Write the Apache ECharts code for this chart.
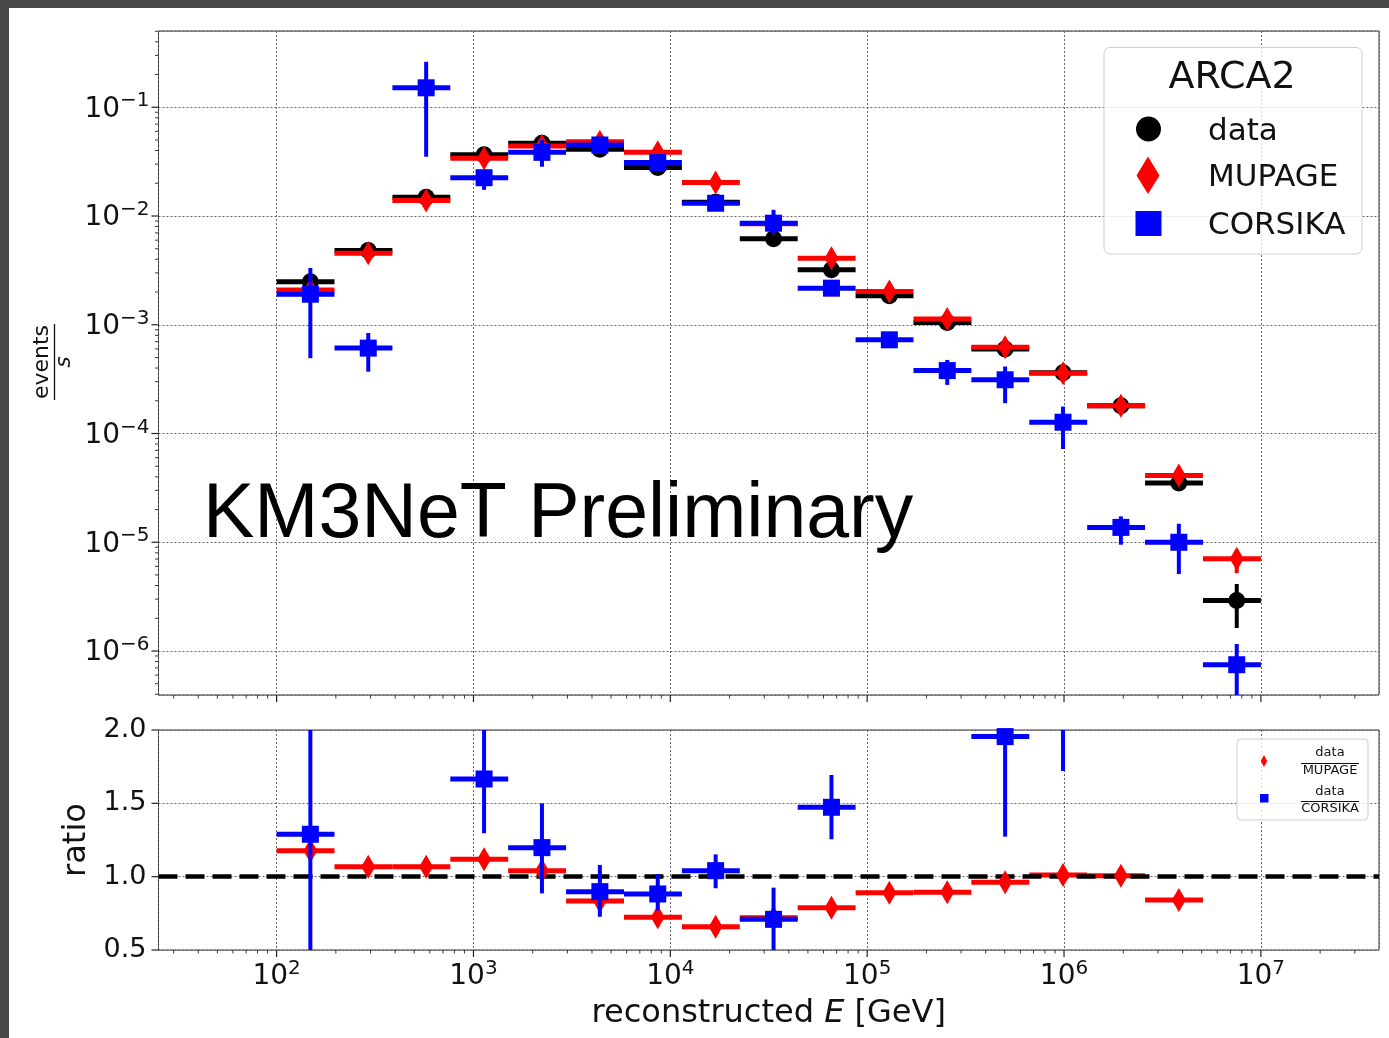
<!DOCTYPE html>
<html><head><meta charset="utf-8">
<script src="https://cdn.jsdelivr.net/npm/echarts@6/dist/echarts.min.js"></script>
<style>html,body{margin:0;padding:0;background:#fff}#c{width:1389px;height:1038px}</style>
</head><body><div id="c"></div>
<script>
// ---- bins (reconstructed energy, GeV) ----
const binLow = [100, 196.8, 387.4, 762.6, 1501, 2955, 5816, 11450, 22540, 44360, 87330, 171900, 338300, 665900, 1311000, 2580000, 5079000];
const binHigh = [196.8, 387.4, 762.6, 1501, 2955, 5816, 11450, 22540, 44360, 87330, 171900, 338300, 665900, 1311000, 2580000, 5079000, 10000000];
const binCenter = [148.4, 292.1, 575.0, 1132, 2228, 4386, 8633, 16990, 33450, 65850, 129600, 255100, 502100, 988400, 1945000, 3830000, 7540000];

// ---- event rates (events / s) ----
const dataRate = [2.49e-3, 4.81e-3, 1.49e-2, 3.65e-2, 4.67e-2, 4.11e-2, 2.79e-2, 1.34e-2, 6.17e-3, 3.2e-3, 1.85e-3, 1.05e-3, 6.0e-4, 3.62e-4, 1.8e-4, 3.5e-5, 2.92e-6];
const dataLo = [null, null, null, null, null, null, null, null, null, null, null, null, null, null, null, null, 1.63e-6];
const dataHi = [null, null, null, null, null, null, null, null, null, null, null, null, null, null, null, null, 4.13e-6];
const mupageRate = [2.09e-3, 4.55e-3, 1.39e-2, 3.4e-2, 4.4e-2, 4.83e-2, 3.85e-2, 2.03e-2, 8.5e-3, 4.09e-3, 2.02e-3, 1.13e-3, 6.22e-4, 3.59e-4, 1.8e-4, 4.11e-5, 7.05e-6];
const mupageLo = [null, null, null, null, null, null, null, null, null, null, null, null, null, null, null, null, 5.2e-6];
const mupageHi = [null, null, null, null, null, null, null, null, null, null, null, null, null, null, null, null, 8.5e-6];
const corsikaRate = [1.91e-3, 6.1e-4, 0.151, 2.25e-2, 3.85e-2, 4.5e-2, 3.1e-2, 1.31e-2, 8.59e-3, 2.17e-3, 7.27e-4, 3.79e-4, 3.12e-4, 1.27e-4, 1.37e-5, 1.0e-5, 7.48e-7];
const corsikaLo = [4.93e-4, 3.7e-4, 3.51e-2, 1.74e-2, 2.84e-2, null, null, null, 6.8e-3, null, null, 2.8e-4, 1.9e-4, 7.2e-5, 9.5e-6, 5.1e-6, 2.0e-7];
const corsikaHi = [3.33e-3, 8.4e-4, 0.262, 2.65e-2, 5.0e-2, null, null, null, 1.14e-2, null, null, 4.75e-4, 4.13e-4, 1.77e-4, 1.73e-5, 1.48e-5, 1.16e-6];

// ---- ratios ----
const ratioMupage = [1.177, 1.068, 1.068, 1.118, 1.041, 0.834, 0.723, 0.659, 0.72, 0.788, 0.891, 0.893, 0.962, 1.011, 1.007, 0.841, null];
const ratioCorsika = [1.289, null, null, 1.666, 1.198, 0.898, 0.882, 1.041, 0.709, 1.473, null, null, 1.955, 2.83, null, null, null];
const ratioCorsikaLo = [0.3, null, null, 1.296, 0.886, 0.727, 0.77, 0.921, 0.35, 1.255, null, null, 1.273, 1.72, null, null, null];
const ratioCorsikaHi = [2.3, null, null, 2.2, 1.50, 1.08, 1.018, 1.152, 0.925, 1.693, null, null, 2.6, 3.9, null, null, null];

// ---- axis ranges / ticks ----
const xMin = Math.pow(10, 1.4), xMax = Math.pow(10, 7.6);
const yMin = 3.94e-7, yMax = 0.5027;
const ratioMin = 0.5, ratioMax = 2.0;
const xDecades = [1, 2, 3, 4, 5, 6, 7];
const yDecades = [-7, -6, -5, -4, -3, -2, -1];
const ratioTicks = [0.5, 1.0, 1.5, 2.0];

const FONT = '"DejaVu Sans", sans-serif';
const C_BLACK = '#000000', C_RED = '#ff0000', C_BLUE = '#0000ff';

function logTicks(decades, lo, hi) {
  const out = [];
  decades.forEach(n => { for (let m = 1; m <= 9; m++) { const v = m * Math.pow(10, n); if (v >= lo && v <= hi) out.push(v); } });
  return out;
}
function isMajor(v) { const e = Math.log10(v); return Math.abs(e - Math.round(e)) < 1e-6; }

function errData(vals, lo, hi) {
  const out = [];
  for (let i = 0; i < vals.length; i++) {
    if (vals[i] == null && lo[i] == null) continue;
    out.push([binLow[i], binHigh[i], binCenter[i], vals[i] == null ? '-' : vals[i], lo[i] == null ? '-' : lo[i], hi[i] == null ? '-' : hi[i]]);
  }
  return out;
}
function pts(vals) {
  const out = [];
  for (let i = 0; i < vals.length; i++) if (vals[i] != null) out.push([binCenter[i], vals[i]]);
  return out;
}
function errSeries(name, xi, color, data, z) {
  return {
    type: 'custom', name: name, xAxisIndex: xi, yAxisIndex: xi, z: z, silent: true,
    encode: { x: [0, 1, 2], y: [3, 4, 5] },
    data: data,
    renderItem: function (params, api) {
      const cs = params.coordSys;
      const top = cs.y, bot = cs.y + cs.height;
      const xl = api.value(0), xh = api.value(1), xc = api.value(2);
      const y = api.value(3), ylo = api.value(4), yhi = api.value(5);
      const ch = [];
      if (!isNaN(y) && y > 0) {
        const p1 = api.coord([xl, y]), p2 = api.coord([xh, y]);
        if (p1[1] >= top - 1 && p1[1] <= bot + 1)
          ch.push({ type: 'line', shape: { x1: p1[0], y1: p1[1], x2: p2[0], y2: p2[1] }, style: { stroke: color, lineWidth: 5 } });
      }
      if (!isNaN(ylo) && !isNaN(yhi) && ylo > 0) {
        const a = api.coord([xc, ylo]), b = api.coord([xc, yhi]);
        const y1 = Math.min(Math.max(a[1], top), bot), y2 = Math.min(Math.max(b[1], top), bot);
        if (Math.abs(y1 - y2) > 0.5)
          ch.push({ type: 'line', shape: { x1: a[0], y1: y1, x2: a[0], y2: y2 }, style: { stroke: color, lineWidth: 4 } });
      }
      return { type: 'group', children: ch };
    }
  };
}
function tickSeries(axisIdx, dir, values, otherVal, majorFn) {
  return {
    type: 'custom', xAxisIndex: axisIdx, yAxisIndex: axisIdx, clip: false, silent: true, z: 20,
    encode: dir === 'x' ? { x: 0, y: 1 } : { x: 1, y: 0 },
    data: values.map(v => [v, otherVal]),
    renderItem: function (params, api) {
      const cs = params.coordSys;
      const v = api.value(0);
      const len = majorFn(v) ? 7 : 3.5;
      const w = majorFn(v) ? 1.2 : 0.9;
      if (dir === 'x') {
        const p = api.coord([v, api.value(1)]);
        if (p[0] < cs.x - 0.5 || p[0] > cs.x + cs.width + 0.5) return null;
        const b = cs.y + cs.height;
        return { type: 'line', shape: { x1: p[0], y1: b, x2: p[0], y2: b + len }, style: { stroke: '#222', lineWidth: w } };
      } else {
        const p = api.coord([api.value(1), v]);
        if (p[1] < cs.y - 0.5 || p[1] > cs.y + cs.height + 0.5) return null;
        return { type: 'line', shape: { x1: cs.x, y1: p[1], x2: cs.x - len, y2: p[1] }, style: { stroke: '#222', lineWidth: w } };
      }
    }
  };
}

const powRich = {
  b: { fontSize: 28, lineHeight: 32, verticalAlign: 'bottom', fontFamily: FONT, color: '#111' },
  s: { fontSize: 20, lineHeight: 20, verticalAlign: 'top', fontFamily: FONT, color: '#111' }
};
function powFmt(v) {
  const e = Math.log10(v);
  if (Math.abs(e - Math.round(e)) > 1e-6) return '';
  const n = Math.round(e);
  return '{b|10}{s|' + (n < 0 ? '\u2212' : '') + Math.abs(n) + '}';
}
const gridLine = { show: true, lineStyle: { color: '#666', width: 1, type: [2, 2] } };

const chart = echarts.init(document.getElementById('c'), null, { renderer: 'canvas' });
chart.setOption({
  backgroundColor: '#ffffff',
  animation: false,
  grid: [
    { left: 158.5, top: 31, width: 1220.5, height: 664, show: true, borderColor: '#333', borderWidth: 1, backgroundColor: 'transparent' },
    { left: 158.5, top: 730, width: 1220.5, height: 220, show: true, borderColor: '#333', borderWidth: 1, backgroundColor: 'transparent' }
  ],
  xAxis: [
    { type: 'log', logBase: 10, gridIndex: 0, min: xMin, max: xMax, axisLine: { show: false }, axisTick: { show: false },
      axisLabel: { show: false }, splitLine: gridLine },
    { type: 'log', logBase: 10, gridIndex: 1, min: xMin, max: xMax, axisLine: { show: false }, axisTick: { show: false },
      axisLabel: { show: true, margin: 9, formatter: powFmt, rich: powRich, showMinLabel: false, showMaxLabel: false },
      splitLine: gridLine,
      name: 'reconstructed {i|E} [GeV]', nameLocation: 'middle', nameGap: 48,
      nameTextStyle: { fontFamily: FONT, fontSize: 32, color: '#111',
        rich: { i: { fontFamily: FONT, fontSize: 32, fontStyle: 'italic', color: '#111' } } } }
  ],
  yAxis: [
    { type: 'log', logBase: 10, gridIndex: 0, min: yMin, max: yMax, axisLine: { show: false }, axisTick: { show: false },
      axisLabel: { show: true, margin: 9, formatter: powFmt, rich: powRich, showMinLabel: false, showMaxLabel: false },
      splitLine: gridLine },
    { type: 'value', gridIndex: 1, min: ratioMin, max: ratioMax, interval: 0.5, axisLine: { show: false }, axisTick: { show: false },
      axisLabel: { show: true, margin: 12, fontFamily: FONT, fontSize: 27, color: '#111', formatter: v => v.toFixed(1) },
      splitLine: gridLine,
      name: 'ratio', nameLocation: 'middle', nameRotate: 90, nameGap: 56,
      nameTextStyle: { fontFamily: FONT, fontSize: 32, color: '#111' } }
  ],
  series: [
    errSeries('data', 0, C_BLACK, errData(dataRate, dataLo, dataHi), 2),
    { type: 'scatter', name: 'data', xAxisIndex: 0, yAxisIndex: 0, z: 3, symbol: 'circle', symbolSize: 17,
      itemStyle: { color: C_BLACK, opacity: 1 }, data: pts(dataRate) },
    errSeries('MUPAGE', 0, C_RED, errData(mupageRate, mupageLo, mupageHi), 4),
    { type: 'scatter', name: 'MUPAGE', xAxisIndex: 0, yAxisIndex: 0, z: 5, symbol: 'diamond', symbolSize: [14, 24],
      itemStyle: { color: C_RED, opacity: 1 }, data: pts(mupageRate) },
    errSeries('CORSIKA', 0, C_BLUE, errData(corsikaRate, corsikaLo, corsikaHi), 6),
    { type: 'scatter', name: 'CORSIKA', xAxisIndex: 0, yAxisIndex: 0, z: 7, symbol: 'rect', symbolSize: 17,
      itemStyle: { color: C_BLUE, opacity: 1 }, data: pts(corsikaRate) },

    errSeries('data/MUPAGE', 1, C_RED, errData(ratioMupage, ratioMupage.map(() => null), ratioMupage.map(() => null)), 3),
    { type: 'line', xAxisIndex: 1, yAxisIndex: 1, z: 4, data: [], silent: true,
      markLine: { silent: true, symbol: 'none', label: { show: false }, data: [{ yAxis: 1 }],
        lineStyle: { color: '#000', width: 4.5, type: [19, 8], opacity: 1 } } },
    { type: 'scatter', name: 'data/MUPAGE', xAxisIndex: 1, yAxisIndex: 1, z: 5, symbol: 'diamond', symbolSize: [14, 24],
      itemStyle: { color: C_RED, opacity: 1 }, data: pts(ratioMupage) },
    errSeries('data/CORSIKA', 1, C_BLUE, errData(ratioCorsika, ratioCorsikaLo, ratioCorsikaHi), 6),
    { type: 'scatter', name: 'data/CORSIKA', xAxisIndex: 1, yAxisIndex: 1, z: 7, symbol: 'rect', symbolSize: 17, clip: true,
      itemStyle: { color: C_BLUE, opacity: 1 }, data: pts(ratioCorsika).filter(p => p[1] <= ratioMax + 0.05) },

    tickSeries(0, 'x', logTicks(xDecades, xMin, xMax), 1e-3, isMajor),
    tickSeries(0, 'y', logTicks(yDecades, yMin, yMax), 1000, isMajor),
    tickSeries(1, 'x', logTicks(xDecades, xMin, xMax), 1, isMajor),
    tickSeries(1, 'y', ratioTicks, 1000, () => true)
  ],
  graphic: [
    { type: 'rect', z: 200, shape: { x: 0, y: 0, width: 1389, height: 8 }, style: { fill: '#474747' } },
    { type: 'rect', z: 200, shape: { x: 0, y: 0, width: 9, height: 1038 }, style: { fill: '#474747' } },
    { type: 'text', z: 50, style: { text: 'KM3NeT Preliminary', x: 203, y: 516, font: '77px "Liberation Sans", Arial, sans-serif', fill: '#000', verticalAlign: 'middle' } },
    { type: 'group', x: 54.5, y: 362, rotation: Math.PI / 2, z: 50, children: [
      { type: 'text', style: { text: 'events', x: 0, y: -12, font: '22px "DejaVu Sans"', fill: '#111', align: 'center', verticalAlign: 'middle' } },
      { type: 'line', shape: { x1: -38, y1: 0, x2: 38, y2: 0 }, style: { stroke: '#111', lineWidth: 1.3 } },
      { type: 'text', style: { text: 's', x: 0, y: 10, font: 'italic 22px "DejaVu Sans"', fill: '#111', align: 'center', verticalAlign: 'middle' } }
    ] },
    // main legend
    { type: 'rect', z: 60, shape: { x: 1104, y: 47.5, width: 258, height: 206.5, r: 6 }, style: { fill: 'rgba(255,255,255,0.8)', stroke: '#cfcfcf', lineWidth: 1 } },
    { type: 'text', z: 61, style: { text: 'ARCA2', x: 1232, y: 78, font: '38px "DejaVu Sans"', fill: '#111', align: 'center', verticalAlign: 'middle' } },
    { type: 'circle', z: 61, shape: { cx: 1148.5, cy: 129, r: 12.5 }, style: { fill: C_BLACK } },
    { type: 'polygon', z: 61, shape: { points: [[1148, 156.5], [1159.5, 175.5], [1148, 194], [1136.5, 175.5]] }, style: { fill: C_RED } },
    { type: 'rect', z: 61, shape: { x: 1135.5, y: 211, width: 26, height: 25 }, style: { fill: C_BLUE } },
    { type: 'text', z: 61, style: { text: 'data', x: 1208, y: 132, font: '31px "DejaVu Sans"', fill: '#111', verticalAlign: 'middle' } },
    { type: 'text', z: 61, style: { text: 'MUPAGE', x: 1208, y: 178, font: '31px "DejaVu Sans"', fill: '#111', verticalAlign: 'middle' } },
    { type: 'text', z: 61, style: { text: 'CORSIKA', x: 1208, y: 226, font: '31px "DejaVu Sans"', fill: '#111', verticalAlign: 'middle' } },
    // ratio legend
    { type: 'rect', z: 60, shape: { x: 1237, y: 739, width: 131, height: 81, r: 4 }, style: { fill: 'rgba(255,255,255,0.8)', stroke: '#cfcfcf', lineWidth: 1 } },
    { type: 'polygon', z: 61, shape: { points: [[1264, 755], [1267.2, 761], [1264, 767], [1260.8, 761]] }, style: { fill: C_RED } },
    { type: 'rect', z: 61, shape: { x: 1260, y: 794, width: 8.5, height: 8.5 }, style: { fill: C_BLUE } },
    { type: 'text', z: 61, style: { text: 'data', x: 1330, y: 753, font: '13px "DejaVu Sans"', fill: '#111', align: 'center', verticalAlign: 'middle' } },
    { type: 'line', z: 61, shape: { x1: 1301, y1: 763.5, x2: 1359, y2: 763.5 }, style: { stroke: '#111', lineWidth: 1 } },
    { type: 'text', z: 61, style: { text: 'MUPAGE', x: 1330, y: 771, font: '13px "DejaVu Sans"', fill: '#111', align: 'center', verticalAlign: 'middle' } },
    { type: 'text', z: 61, style: { text: 'data', x: 1330, y: 791.5, font: '13px "DejaVu Sans"', fill: '#111', align: 'center', verticalAlign: 'middle' } },
    { type: 'line', z: 61, shape: { x1: 1301, y1: 801.5, x2: 1359, y2: 801.5 }, style: { stroke: '#111', lineWidth: 1 } },
    { type: 'text', z: 61, style: { text: 'CORSIKA', x: 1330, y: 809, font: '13px "DejaVu Sans"', fill: '#111', align: 'center', verticalAlign: 'middle' } }
  ]
});
</script></body></html>
